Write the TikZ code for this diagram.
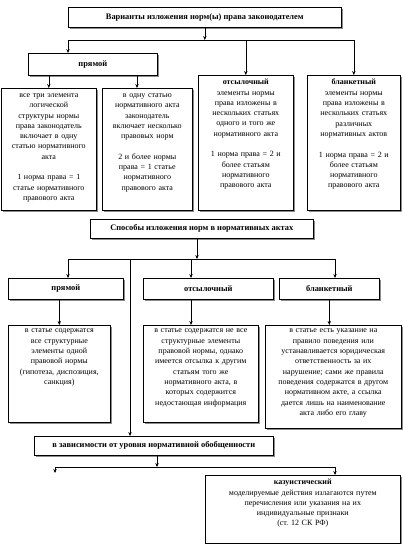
\documentclass[tikz,border=0pt]{standalone}
\usepackage{fontspec}
\setmainfont{Liberation Serif}
\usetikzlibrary{arrows.meta,shadows}
\begin{document}
\frenchspacing
\begin{tikzpicture}[x=1pt,y=-1pt,
  bx/.style={draw, fill=white, line width=0.6pt, anchor=north west, inner sep=0pt,
    font=\fontsize{8.4}{10.3}\selectfont\bfseries,
    drop shadow={shadow xshift=1.3pt,shadow yshift=-1.3pt,fill=black!45,opacity=1}},
  tx/.style={anchor=north, align=center, inner sep=0pt, font=\fontsize{8}{10.3}\selectfont},
  ln/.style={line width=0.6pt},
  arr/.style={ln, -{Stealth[length=4pt,width=3.4pt]}}]
\useasboundingbox (0,0) rectangle (402,544);
% boxes
\node[bx, minimum width=273pt, minimum height=20pt] (t1) at (68,7) {Варианты изложения норм(ы) права законодателем};
\node[bx, minimum width=129pt, minimum height=22pt] (pr1) at (28,53) {прямой};
\node[bx, minimum width=95pt, minimum height=122pt] (b1) at (1,88) {};
\node[bx, minimum width=90pt, minimum height=122pt] (b2) at (102,88) {};
\node[bx, minimum width=95pt, minimum height=135pt] (b3) at (198,75) {};
\node[bx, minimum width=93pt, minimum height=135pt] (b4) at (307,75) {};
\node[bx, minimum width=223pt, minimum height=19pt] (s) at (90,219) {Способы изложения норм в нормативных актах};
\node[bx, minimum width=115pt, minimum height=21pt] (p2) at (8,278) {прямой};
\node[bx, minimum width=130pt, minimum height=21pt] (o2) at (143,278) {отсылочный};
\node[bx, minimum width=100pt, minimum height=21pt] (bl2) at (279,278) {бланкетный};
\node[bx, minimum width=102pt, minimum height=97pt] (lb1) at (8,325) {};
\node[bx, minimum width=115pt, minimum height=97pt] (lb2) at (143,325) {};
\node[bx, minimum width=136pt, minimum height=103pt] (lb3) at (265,325) {};
\node[bx, minimum width=239pt, minimum height=19pt] (vz) at (34,436) {в зависимости от уровня нормативной обобщенности};
\node[bx, minimum width=195pt, minimum height=68pt] (kaz) at (205,475) {};
% texts
\node[tx, text width=93pt] (b1t) at ([yshift=-5.5pt]b1.north) {все три элемента\\логической\\структуры нормы\\права законодатель\\включает в одну\\статью нормативного\\акта\\[10.3pt]1 норма права = 1\\статье нормативного\\правового акта};
\node[tx, text width=88pt] (b2t) at ([yshift=-5.5pt]b2.north) {в одну статью\\нормативного акта\\законодатель\\включает несколько\\правовых норм\\[10.3pt]2 и более нормы\\права = 1 статье\\нормативного\\правового акта};
\node[tx, text width=93pt] (b3t) at ([yshift=-4pt]b3.north) {\textbf{отсылочный}\\элементы нормы\\права изложены в\\нескольких статьях\\одного и того же\\нормативного акта\\[10.3pt]1 норма права = 2 и\\более статьям\\нормативного\\правового акта};
\node[tx, text width=91pt] (b4t) at ([yshift=-4pt]b4.north) {\textbf{бланкетный}\\элементы нормы\\права изложены в\\нескольких статьях\\различных\\нормативных актов\\[10.3pt]1 норма права = 2 и\\более статьям\\нормативного\\правового акта};
\node[tx, text width=100pt] (lb1t) at ([yshift=-4pt]lb1.north) {в статье содержатся\\все структурные\\элементы одной\\правовой нормы\\(гипотеза, диспозиция,\\санкция)};
\node[tx, text width=113pt] (lb2t) at ([yshift=-4pt]lb2.north) {в статье содержатся не все\\структурные элементы\\правовой нормы, однако\\имеется отсылка к другим\\статьям того же\\нормативного акта, в\\которых содержится\\недостающая информация};
\node[tx, text width=134pt] (lb3t) at ([yshift=-4pt]lb3.north) {в статье есть указание на\\правило поведения или\\устанавливается юридическая\\ответственность за их\\нарушение; сами же правила\\поведения содержатся в другом\\нормативном акте, а ссылка\\дается лишь на наименование\\акта либо его главу};
\node[tx, text width=193pt] (kazt) at ([yshift=-4pt]kaz.north) {\textbf{казуистический}\\моделируемые действия излагаются путем\\перечисления или указания на их\\индивидуальные признаки\\(ст. 12 СК РФ)};
% connectors, top
\coordinate (j1) at (t1.south |- 0,40);
\coordinate (j1L) at (68,40);
\coordinate (j1R) at (b4.north |- 0,40);
\draw[arr] (t1.south) -- (j1);
\draw[ln] (j1L) -- (j1R);
\draw[arr] (j1L) -- (j1L |- pr1.north);
\draw[arr] (j1 -| b3.north) -- (b3.north);
\draw[arr] (j1R) -- (b4.north);
\draw[arr] (pr1.south -| b1.north) -- (b1.north);
\coordinate (k2) at (137,75);
\draw[arr] (k2) -- (k2 |- b2.north);
% middle
\coordinate (j2) at (197,259);
\coordinate (j2L) at (68,259);
\coordinate (j2M) at (191,259);
\coordinate (j2V) at (130,259);
\coordinate (j2R) at (335,259);
\draw[arr] (s.south -| j2) -- (j2);
\draw[ln] (j2L) -- (j2R);
\draw[arr] (j2L) -- (j2L |- p2.north);
\draw[arr] (j2M) -- (j2M |- o2.north);
\draw[arr] (j2R) -- (j2R |- bl2.north);
\draw[arr] (j2V) -- (j2V |- vz.north);
\draw[arr] (p2.south -| lb1.north) -- (lb1.north);
\draw[arr] (o2.south -| j2M) -- (lb2.north -| j2M);
\draw[arr] (bl2.south) -- (bl2.south |- lb3.north);
% bottom
\coordinate (j3) at (157,467);
\coordinate (j3L) at (55,467);
\coordinate (j3R) at (335,467);
\coordinate (e3) at (55,473);
\draw[arr] (vz.south -| j3) -- (j3);
\draw[ln] (j3L) -- (j3R);
\draw[arr] (j3L) -- (e3);
\draw[arr] (j3R) -- (j3R |- kaz.north);
\end{tikzpicture}
\end{document}
